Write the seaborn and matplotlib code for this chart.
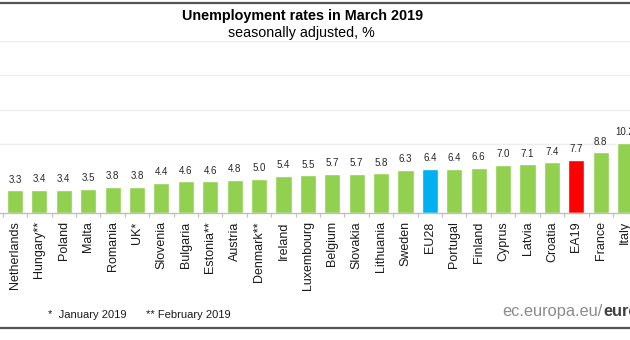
import matplotlib
matplotlib.use("Agg")
import matplotlib.pyplot as plt
import seaborn as sns
import pandas as pd
from matplotlib.lines import Line2D

countries = ["Netherlands", "Hungary**", "Poland", "Malta", "Romania", "UK*",
             "Slovenia", "Bulgaria", "Estonia**", "Austria", "Denmark**", "Ireland",
             "Luxembourg", "Belgium", "Slovakia", "Lithuania", "Sweden", "EU28",
             "Portugal", "Finland", "Cyprus", "Latvia", "Croatia", "EA19",
             "France", "Italy"]
rates = [3.3, 3.4, 3.4, 3.5, 3.8, 3.8, 4.4, 4.6, 4.6, 4.8, 5.0, 5.4,
         5.5, 5.7, 5.7, 5.8, 6.3, 6.4, 6.4, 6.6, 7.0, 7.1, 7.4, 7.7,
         8.8, 10.2]
labels = ["3.3", "3.4", "3.4", "3.5", "3.8", "3.8", "4.4", "4.6", "4.6", "4.8",
          "5.0", "5.4", "5.5", "5.7", "5.7", "5.8", "6.3", "6.4", "6.4", "6.6",
          "7.0", "7.1", "7.4", "7.7", "8.8", "10.2"]
gridlines = [10, 15, 20, 25]

GREEN, BLUE, RED = "#92D050", "#00B0F0", "#FF0000"
special = {"EU28": BLUE, "EA19": RED}
palette = {c: special.get(c, GREEN) for c in countries}

df = pd.DataFrame({"country": countries, "rate": rates})

sns.set_theme(style="white")
plt.rcParams["font.family"] = ["Liberation Sans", "DejaVu Sans"]

fig = plt.figure(figsize=(6.3, 3.4), dpi=100)
ax = fig.add_axes([0.0, 0.3735, 1.0, 0.5059])

sns.barplot(data=df, x="country", y="rate", hue="country", palette=palette,
            order=countries, dodge=False, legend=False, width=0.66,
            saturation=1, ax=ax)

for i, (v, lab) in enumerate(zip(rates, labels)):
    ax.annotate(lab, (i, v), xytext=(0, 4), textcoords="offset points",
                ha="center", va="bottom", fontsize=7, color="#262626")

ax.set_yticks(gridlines)
ax.yaxis.grid(True, color="#EDEDED", linewidth=1)
ax.set_axisbelow(True)
ax.tick_params(axis="y", left=False, labelleft=False)
ax.set_xlabel("")
ax.set_ylabel("")
for s in ["top", "right", "left"]:
    ax.spines[s].set_visible(False)
ax.spines["bottom"].set_color("#BFBFBF")
ax.spines["bottom"].set_linewidth(1)

ax.set_xticks(range(len(countries)))
ax.set_xticklabels(countries, rotation=90, fontsize=9, color="#1a1a1a")
ax.tick_params(axis="x", which="major", length=0, pad=6)
ax.set_xticks([i - 0.5 for i in range(len(countries) + 1)], minor=True)
ax.tick_params(axis="x", which="minor", length=3, color="#BFBFBF", width=0.8,
               bottom=True)

ax.set_ylim(0, 25)
ax.set_xlim(-0.615, 25.2)

fig.text(0.48, 0.953, "Unemployment rates in March 2019", ha="center",
         va="center", fontsize=10.4, fontweight="bold", color="#000000")
fig.text(0.478, 0.903, "seasonally adjusted, %", ha="center", va="center",
         fontsize=10.3, color="#000000")

fig.text(0.076, 0.074, "*  January 2019", ha="left", va="center",
         fontsize=8, color="#1a1a1a")
fig.text(0.232, 0.074, "** February 2019", ha="left", va="center",
         fontsize=8, color="#1a1a1a")

t1 = fig.text(0.798, 0.085, "ec.europa.eu/", ha="left", va="center",
              fontsize=11.8, color="#8C8C8C")
fig.canvas.draw()
bb = t1.get_window_extent(renderer=fig.canvas.get_renderer())
x_next = fig.transFigure.inverted().transform((bb.x1, bb.y0))[0]
fig.text(x_next, 0.085, "eurostat", ha="left", va="center",
         fontsize=11.8, fontweight="bold", color="#404040")

for yf in (1 - 3 / 340, 1 - 328 / 340):
    fig.add_artist(Line2D([0, 1], [yf, yf], transform=fig.transFigure,
                          color="#555555", linewidth=1.6))

fig.savefig("out.png", dpi=100)
